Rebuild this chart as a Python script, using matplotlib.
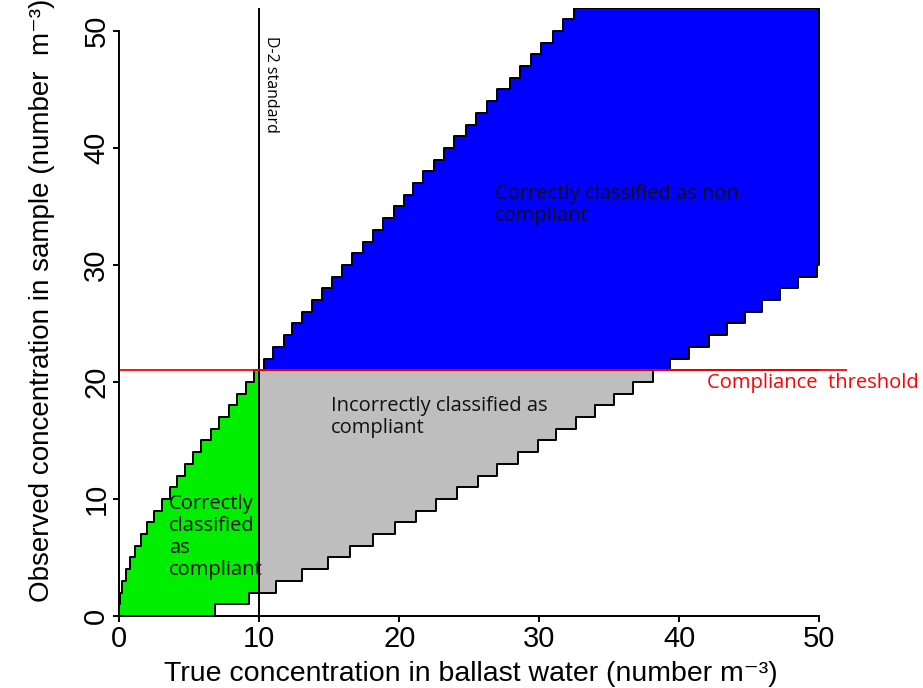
import numpy as np
import matplotlib.pyplot as plt

# Arial-like font for axes, Calibri-like font for the annotations
plt.rcParams['font.family'] = ['Liberation Sans', 'DejaVu Sans']

# --- data ---
# true concentration at which the upper bound of the observed count steps up to 1, 2, 3, ...
upper_steps = [0.001, 0.045, 0.19, 0.44, 0.75, 1.1, 1.55, 2.0, 2.5, 3.05,
               3.62, 4.14, 4.7, 5.25, 5.85, 6.52, 7.12, 7.83, 8.4, 9.08,
               9.6, 10.3, 11.0, 11.74, 12.35, 13.05, 13.76, 14.5, 15.2, 15.9,
               16.6, 17.4, 18.1, 18.85, 19.6, 20.3, 21.0, 21.7, 22.45, 23.2,
               23.9, 24.76, 25.5, 26.26, 27.0, 27.88, 28.6, 29.4, 30.1, 30.97,
               31.7, 32.5]
# true concentration at which the lower bound steps up to 1, 2, 3, ...
lower_steps = [6.86, 9.24, 11.21, 13.05, 14.88, 16.5, 18.12, 19.7, 21.2, 22.64,
               24.1, 25.6, 27.0, 28.45, 29.9, 31.2, 32.6, 33.95, 35.3, 36.7,
               38.1, 39.36, 40.7, 42.1, 43.4, 44.7, 45.9, 47.2, 48.5, 49.8]

threshold = 21      # compliance threshold (observed)
standard = 10       # D-2 standard (true)
x_max = 50


def level(steps, x):
    # step function: number of steps already passed at x
    return np.searchsorted(steps, x, side='right')


xs = np.unique(np.concatenate([[0, standard, x_max], upper_steps, lower_steps]))
xs = xs[xs <= x_max]
up = level(upper_steps, xs)
lo = level(lower_steps, xs)

fig = plt.figure(figsize=(9.23, 6.88), dpi=100)
ax = fig.add_axes([0.1293, 0.1047, 0.7887, 0.8843])

edge = dict(edgecolor='black', linewidth=1.4, step='post', zorder=1)
# green: true conc below standard
g = xs <= standard
ax.fill_between(xs[g], lo[g], np.minimum(up[g], threshold), facecolor='#00ee00', **edge)
# grey and blue: true conc above standard
r = xs >= standard
ax.fill_between(xs[r], np.minimum(lo[r], threshold), threshold, facecolor='#bebebe', **edge)
ax.fill_between(xs[r], np.maximum(lo[r], threshold), up[r], facecolor='#0000ff', **edge)

ax.axvline(standard, color='black', linewidth=1.4, zorder=2)
ax.axhline(threshold, color='red', linewidth=1.3, zorder=2)

# annotations
ann = dict(family=['Open Sans', 'DejaVu Sans'], fontsize=14.5, color='#111111',
           va='top', ha='left', linespacing=1.12, zorder=3)
ax.text(26.8, 36.9, 'Correctly classified as non-\ncompliant', **ann)
ax.text(15.1, 18.8, 'Incorrectly classified as\ncompliant', **ann)
ax.text(3.55, 10.4, 'Correctly\nclassified\nas\ncompliant', **ann)
ax.text(10.25, 49.6, 'D-2 standard', rotation=270, va='top', ha='left',
        family=['Open Sans', 'DejaVu Sans'], fontsize=11.5, color='black', zorder=3)
ax.text(42, 19.9, 'Compliance  threshold', color='red', va='center', ha='left',
        family=['Open Sans', 'DejaVu Sans'], fontsize=14.5, clip_on=False, zorder=3)

# --- axes, R style ---
ax.set_xlim(0, 52)
ax.set_ylim(0, 52)
ax.set_xticks([0, 10, 20, 30, 40, 50])
ax.set_yticks([0, 10, 20, 30, 40, 50])
for side in ['top', 'right']:
    ax.spines[side].set_visible(False)
for side in ['left', 'bottom']:
    ax.spines[side].set_bounds(0, 50)
    ax.spines[side].set_linewidth(1.4)
ax.tick_params(direction='out', length=4.5, width=1.4, labelsize=21, pad=2)
for t in ax.get_yticklabels():
    t.set_rotation(90)
    t.set_va('center')

ax.set_xlabel('True concentration in ballast water (number m\u207b\u00b3)', fontsize=20.5)
ax.set_ylabel('Observed concentration in sample (number  m\u207b\u00b3)', fontsize=20)
ax.xaxis.set_label_coords(0.483, -0.1175)
ax.xaxis.label.set_va('bottom')
ax.yaxis.set_label_coords(-0.106, 0.519)
ax.yaxis.label.set_va('center')

plt.savefig('out.png', dpi=100)
